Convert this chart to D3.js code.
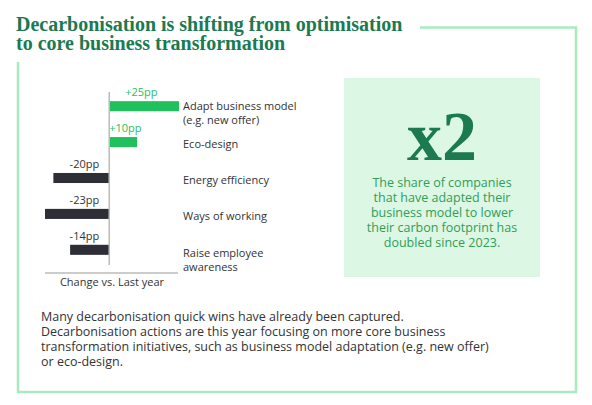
<!DOCTYPE html>
<html>
<head>
<meta charset="UTF-8">
<script src="https://d3js.org/d3.v7.min.js"></script>
<style>
  body { margin: 0; background: #fff; }
  svg { font-family: "Open Sans", Lato, sans-serif; }
</style>
</head>
<body>
<svg id="chart" width="592" height="405"></svg>
<script>
// data
const categories = ["Adapt business model|(e.g. new offer)", "Eco-design", "Energy efficiency", "Ways of working", "Raise employee|awareness"];
const changes = [25, 10, -20, -23, -14];
const valueLabels = ["+25pp", "+10pp", "-20pp", "-23pp", "-14pp"];
const bodyLines = [
  "Many decarbonisation quick wins have already been captured.",
  "Decarbonisation actions are this year focusing on more core business",
  "transformation initiatives, such as business model adaptation (e.g. new offer)",
  "or eco-design."
];
const calloutLines = ["The share of companies", "that have adapted their", "business model to lower", "their carbon footprint has", "doubled since 2023."];

const svg = d3.select("#chart");
const frameCol = "#a8ebbf", titleCol = "#1b7a50";

// frame
svg.append("path")
  .attr("d", "M420,27.5 H576 V392 H18 V62")
  .attr("fill", "none").attr("stroke", frameCol).attr("stroke-width", 2.5);

// title
const title = svg.append("text").attr("fill", titleCol)
  .style("font-family", "'Liberation Serif', 'DejaVu Serif', serif")
  .style("font-weight", "bold").style("font-size", "20px");
title.append("tspan").attr("x", 16).attr("y", 31).text("Decarbonisation is shifting from optimisation");
title.append("tspan").attr("x", 16).attr("y", 50).text("to core business transformation");

// bar chart
const x = d3.scaleLinear().domain([-23, 25]).range([45, 179]);
const y = d3.scaleBand().domain(d3.range(categories.length)).range([85, 271]).paddingInner(0.72).paddingOuter(0.45);

const g = svg.append("g");
g.selectAll("rect.bar").data(changes).join("rect")
  .attr("class", "bar")
  .attr("x", d => x(Math.min(0, d)))
  .attr("width", d => Math.abs(x(d) - x(0)))
  .attr("y", (d, i) => y(i))
  .attr("height", y.bandwidth())
  .attr("fill", d => d > 0 ? "#20c05c" : "#2d2e36");

g.selectAll("text.val").data(changes).join("text")
  .attr("class", "val")
  .attr("x", d => d > 0 ? x(0) + (d > 15 ? 16 : 0) : x(0) - 10)
  .attr("y", (d, i) => y(i) - 5)
  .attr("text-anchor", d => d > 0 ? "start" : "end")
  .attr("fill", d => d > 0 ? "#27c062" : "#333")
  .style("font-size", "11px")
  .text((d, i) => valueLabels[i]);

g.append("line").attr("x1", x(0)).attr("x2", x(0)).attr("y1", 92).attr("y2", 265)
  .attr("stroke", "#bbb").attr("stroke-width", 1.5);
g.append("line").attr("x1", 45).attr("x2", 178).attr("y1", 273).attr("y2", 273)
  .attr("stroke", "#bbb").attr("stroke-width", 1.5);
g.append("text").attr("x", 112).attr("y", 286).attr("text-anchor", "middle")
  .attr("fill", "#333").style("font-size", "11px").text("Change vs. Last year");

g.selectAll("text.cat").data(categories).join("text")
  .attr("class", "cat")
  .attr("fill", "#333").style("font-size", "11px")
  .each(function (c, i) {
    const parts = c.split("|");
    const cy = y(i) + y.bandwidth() / 2 + (i === 4 ? 3 : i === 0 ? 0 : 2);
    parts.forEach((p, k) => {
      d3.select(this).append("tspan").attr("x", 183)
        .attr("y", cy + 4 + k * 14).text(p);
    });
  });

// callout box
svg.append("rect").attr("x", 344).attr("y", 78).attr("width", 196).attr("height", 199).attr("fill", "#dcf7e3");
svg.append("text").attr("x", 442).attr("y", 160).attr("text-anchor", "middle")
  .attr("fill", titleCol).style("font-family", "'Liberation Serif', 'DejaVu Serif', serif")
  .style("font-weight", "bold").style("font-size", "70px").text("x2");
svg.append("text").attr("fill", "#2f9e5a").attr("text-anchor", "middle").style("font-size", "12.5px")
  .selectAll("tspan").data(calloutLines).join("tspan")
  .attr("x", 442).attr("y", (d, i) => 187 + i * 15).text(d => d);

// body text
svg.append("text").attr("fill", "#333").style("font-size", "12.5px")
  .selectAll("tspan").data(bodyLines).join("tspan")
  .attr("x", 41).attr("y", (d, i) => 321 + i * 15).text(d => d);
</script>
</body>
</html>
